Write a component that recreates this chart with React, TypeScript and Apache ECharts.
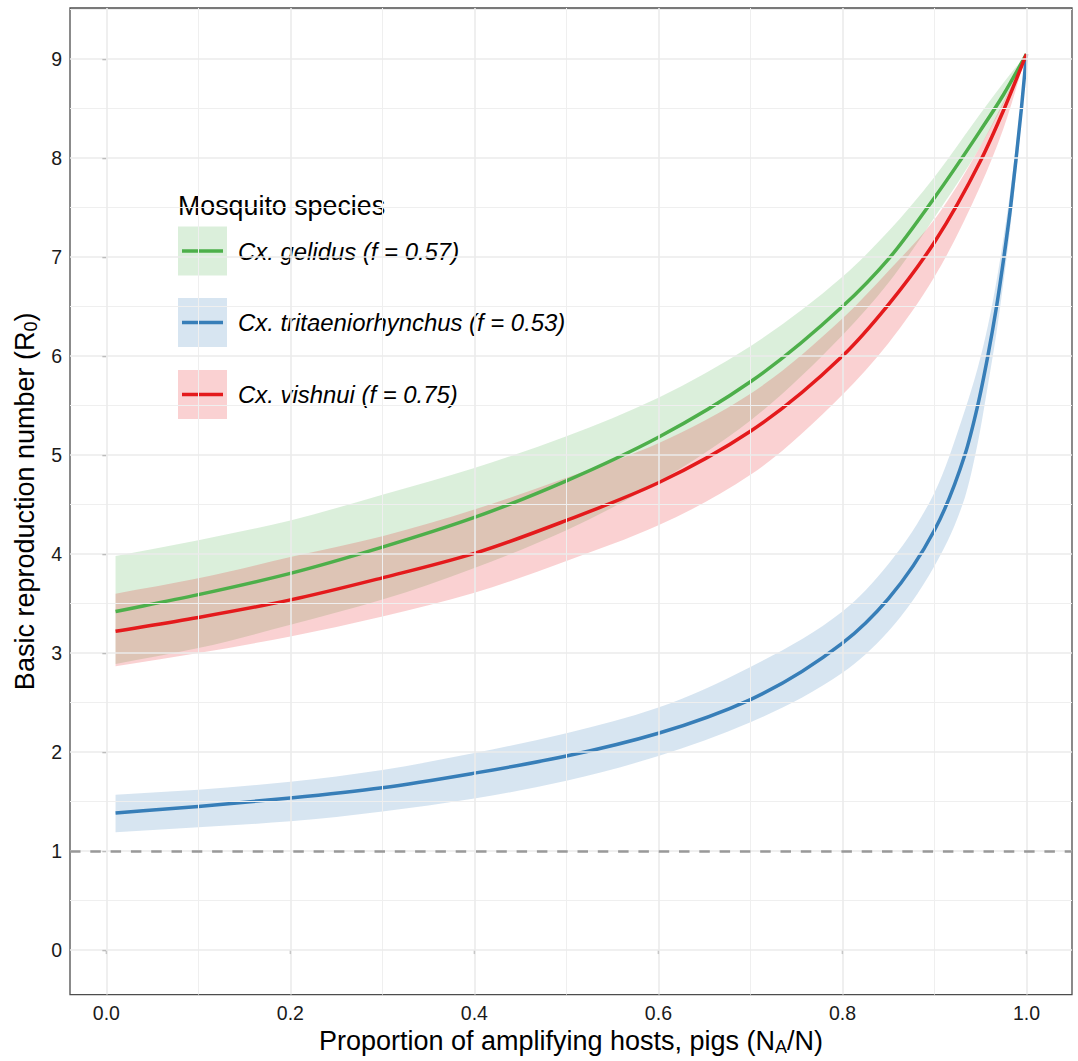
import React, { useEffect, useRef } from "react";
import * as echarts from "echarts";

// ---- data ----
const xGR = [0.01, 0.1, 0.2, 0.3, 0.4, 0.5, 0.6, 0.7, 0.8, 0.85, 0.9, 0.95, 0.975, 1.0];

const gelidusMid = [3.42, 3.59, 3.805, 4.07, 4.37, 4.74, 5.18, 5.74, 6.5, 6.98, 7.6, 8.28, 8.64, 9.05];
const gelidusHi = [3.98, 4.14, 4.34, 4.6, 4.87, 5.19, 5.58, 6.1, 6.8, 7.26, 7.81, 8.45, 8.76, 9.05];
const gelidusLo = [2.89, 3.05, 3.285, 3.54, 3.86, 4.24, 4.73, 5.35, 6.21, 6.74, 7.4, 8.12, 8.55, 9.05];

const vishnuiMid = [3.22, 3.36, 3.537, 3.76, 4.007, 4.34, 4.72, 5.24, 6.0, 6.52, 7.15, 7.97, 8.48, 9.05];
const vishnuiHi = [3.6, 3.755, 3.97, 4.18, 4.45, 4.77, 5.12, 5.62, 6.38, 6.86, 7.38, 8.12, 8.57, 9.05];
const vishnuiLo = [2.866, 3.0, 3.168, 3.37, 3.61, 3.93, 4.29, 4.8, 5.61, 6.13, 6.8, 7.72, 8.3, 9.05];

const xTri = [0.01, 0.1, 0.2, 0.3, 0.4, 0.5, 0.6, 0.7, 0.8, 0.85, 0.9, 0.933, 0.947, 0.958, 0.9675, 0.9755, 0.9827, 0.9888, 0.9945, 1.0];
const tritaeMid = [1.385, 1.45, 1.536, 1.64, 1.787, 1.96, 2.19, 2.53, 3.1, 3.55, 4.24, 5.0, 5.5, 6.0, 6.5, 7.0, 7.5, 8.0, 8.5, 9.05];
const tritaeHi = [1.57, 1.62, 1.7, 1.82, 1.99, 2.19, 2.45, 2.86, 3.42, 3.9, 4.62, 5.45, 5.88, 6.3, 6.76, 7.22, 7.68, 8.15, 8.6, 9.05];
const tritaeLo = [1.19, 1.24, 1.3, 1.4, 1.53, 1.71, 1.96, 2.3, 2.8, 3.22, 3.88, 4.57, 5.12, 5.7, 6.24, 6.78, 7.32, 7.85, 8.4, 9.05];

const xTicks = [0, 0.2, 0.4, 0.6, 0.8, 1.0];
const xMinor = [0.1, 0.3, 0.5, 0.7, 0.9];
const yTicks = [0, 1, 2, 3, 4, 5, 6, 7, 8, 9];
const yMinor = [0.5, 1.5, 2.5, 3.5, 4.5, 5.5, 6.5, 7.5, 8.5, 9.5];
const threshold = 1;

const legendTitle = "Mosquito species";
const speciesNames = ["Cx. gelidus (f = 0.57)", "Cx. tritaeniorhynchus (f = 0.53)", "Cx. vishnui (f = 0.75)"];
const speciesColors = ["#4DAF4A", "#377EB8", "#E41A1C"];

const FONT = '"Liberation Sans", Arial, Helvetica, sans-serif';

function hexA(hex: string, a: number) {
  const n = parseInt(hex.slice(1), 16);
  return `rgba(${(n >> 16) & 255},${(n >> 8) & 255},${n & 255},${a})`;
}

// monotone cubic (Fritsch-Carlson) tangents for pixel points with increasing x
function tangents(p: number[][]) {
  const n = p.length;
  const d: number[] = [];
  for (let i = 0; i < n - 1; i++) d.push((p[i + 1][1] - p[i][1]) / (p[i + 1][0] - p[i][0]));
  const m: number[] = new Array(n);
  m[0] = d[0];
  m[n - 1] = d[n - 2];
  for (let i = 1; i < n - 1; i++) {
    if (d[i - 1] * d[i] <= 0) m[i] = 0;
    else {
      const h0 = p[i][0] - p[i - 1][0];
      const h1 = p[i + 1][0] - p[i][0];
      const w1 = 2 * h1 + h0;
      const w2 = h1 + 2 * h0;
      m[i] = (w1 + w2) / (w1 / d[i - 1] + w2 / d[i]);
    }
  }
  return m;
}

function forwardPath(p: number[][], start: boolean) {
  const m = tangents(p);
  let s = start ? `M${p[0][0]},${p[0][1]}` : `L${p[0][0]},${p[0][1]}`;
  for (let i = 0; i < p.length - 1; i++) {
    const h = p[i + 1][0] - p[i][0];
    s += `C${p[i][0] + h / 3},${p[i][1] + (m[i] * h) / 3} ${p[i + 1][0] - h / 3},${p[i + 1][1] - (m[i + 1] * h) / 3} ${p[i + 1][0]},${p[i + 1][1]}`;
  }
  return s;
}

function backwardPath(p: number[][]) {
  const m = tangents(p);
  const n = p.length;
  let s = `L${p[n - 1][0]},${p[n - 1][1]}`;
  for (let i = n - 2; i >= 0; i--) {
    const h = p[i + 1][0] - p[i][0];
    s += `C${p[i + 1][0] - h / 3},${p[i + 1][1] - (m[i + 1] * h) / 3} ${p[i][0] + h / 3},${p[i][1] + (m[i] * h) / 3} ${p[i][0]},${p[i][1]}`;
  }
  return s;
}

export default function App() {
  const ref = useRef<HTMLDivElement>(null);
  useEffect(() => {
    if (!ref.current) return;
    const chart = echarts.init(ref.current, undefined, { renderer: "svg" });

    const groups = [
      { x: xGR, mid: gelidusMid, hi: gelidusHi, lo: gelidusLo },
      { x: xTri, mid: tritaeMid, hi: tritaeHi, lo: tritaeLo },
      { x: xGR, mid: vishnuiMid, hi: vishnuiHi, lo: vishnuiLo },
    ];

    const series: any[] = [];

    const gridLine = (w: number, c: string) => ({ color: c, width: w, type: "solid" });
    series.push({
      type: "line",
      data: [],
      silent: true,
      z: 0,
      markLine: {
        silent: true,
        symbol: ["none", "none"],
        label: { show: false },
        emphasis: { disabled: true },
        animation: false,
        data: [
          ...xMinor.map((v) => ({ xAxis: v, lineStyle: gridLine(1, "#EFEFEF") })),
          ...yMinor.map((v) => ({ yAxis: v, lineStyle: gridLine(1, "#EFEFEF") })),
          ...xTicks.map((v) => ({ xAxis: v, lineStyle: gridLine(1.6, "#EBEBEB") })),
          ...yTicks.map((v) => ({ yAxis: v, lineStyle: gridLine(1.6, "#EBEBEB") })),
        ],
      },
    });

    // ribbons
    groups.forEach((g, i) => {
      series.push({
        type: "custom",
        name: speciesNames[i] + " ribbon",
        silent: true,
        z: 1,
        clip: true,
        data: g.x.map((x, k) => [x, g.lo[k], g.hi[k]]),
        renderItem: (params: any, api: any) => {
          if (params.dataIndex !== 0) return null;
          const top = g.x.map((x, k) => api.coord([x, g.hi[k]]));
          const bot = g.x.map((x, k) => api.coord([x, g.lo[k]]));
          const d = forwardPath(top, true) + backwardPath(bot) + "Z";
          return {
            type: "path",
            shape: { pathData: d },
            style: { fill: hexA(speciesColors[i], 0.2), stroke: "none" },
          };
        },
      });
    });

    // threshold line
    series.push({
      type: "line",
      data: [],
      silent: true,
      z: 2,
      markLine: {
        silent: true,
        symbol: ["none", "none"],
        label: { show: false },
        emphasis: { disabled: true },
        animation: false,
        data: [{ yAxis: threshold, lineStyle: { color: "#999999", width: 2.6, type: [10.5, 9.8] } }],
      },
    });

    // central lines
    groups.forEach((g, i) => {
      series.push({
        type: "custom",
        name: speciesNames[i],
        silent: true,
        z: 3,
        clip: true,
        data: g.x.map((x, k) => [x, g.mid[k]]),
        renderItem: (params: any, api: any) => {
          if (params.dataIndex !== 0) return null;
          const pts = g.x.map((x, k) => api.coord([x, g.mid[k]]));
          return {
            type: "path",
            shape: { pathData: forwardPath(pts, true) },
            style: { fill: "none", stroke: speciesColors[i], lineWidth: 3.5, lineJoin: "round" },
          };
        },
      });
    });

    // legend as graphic
    const keyX = 178;
    const keyW = 49;
    const centers = [251, 322.5, 394.5];
    const legendEls: any[] = [
      {
        type: "text",
        x: keyX,
        y: 206,
        style: { text: legendTitle, fontSize: 26.8, fontFamily: FONT, fill: "#000", verticalAlign: "middle" },
      },
    ];
    centers.forEach((cy, i) => {
      legendEls.push({
        type: "rect",
        shape: { x: keyX, y: cy - keyW / 2, width: keyW, height: keyW },
        style: { fill: hexA(speciesColors[i], 0.2) },
      });
      legendEls.push({
        type: "line",
        shape: { x1: keyX + 4, y1: cy, x2: keyX + keyW - 4, y2: cy },
        style: { stroke: speciesColors[i], lineWidth: 3.5 },
      });
      legendEls.push({
        type: "text",
        x: 238,
        y: cy,
        style: {
          text: speciesNames[i],
          fontSize: 23.9,
          fontStyle: "italic",
          fontFamily: FONT,
          fill: "#000",
          verticalAlign: "middle",
          align: "left",
        },
      });
    });

    chart.setOption({
      animation: false,
      textStyle: { fontFamily: FONT },
      grid: {
        left: 70,
        right: 6,
        top: 8,
        bottom: 62,
        show: true,
        borderColor: "#4D4D4D",
        borderWidth: 1.3,
        backgroundColor: "#fff",
        containLabel: false,
      },
      xAxis: {
        type: "value",
        min: -0.0395,
        max: 1.0495,
        axisLine: { show: false },
        splitLine: { show: false },
        axisTick: { show: true, customValues: xTicks, length: 4, lineStyle: { color: "#333", width: 1.2 } },
        axisLabel: {
          customValues: xTicks,
          formatter: (v: number) => v.toFixed(1),
          fontSize: 19.5,
          color: "#1a1a1a",
          margin: 8,
          fontFamily: FONT,
        },
        name: "Proportion of amplifying hosts, pigs (N{sub|A}/N)",
        nameLocation: "middle",
        nameGap: 31,
        nameTextStyle: {
          fontSize: 27,
          color: "#000",
          fontFamily: FONT,
          rich: { sub: { fontSize: 18, verticalAlign: "bottom", padding: [12, 0, 0, 0], fontFamily: FONT } },
        },
      },
      yAxis: {
        type: "value",
        min: -0.45,
        max: 9.516,
        axisLine: { show: false },
        splitLine: { show: false },
        axisTick: { show: true, customValues: yTicks, length: 4, lineStyle: { color: "#333", width: 1.2 } },
        axisLabel: {
          customValues: yTicks,
          fontSize: 19.5,
          color: "#1a1a1a",
          margin: 8,
          fontFamily: FONT,
        },
        name: "Basic reproduction number (R{sub|0})",
        nameLocation: "middle",
        nameGap: 30,
        nameRotate: 90,
        nameTextStyle: {
          fontSize: 27,
          color: "#000",
          fontFamily: FONT,
          rich: { sub: { fontSize: 18, verticalAlign: "bottom", padding: [12, 0, 0, 0], fontFamily: FONT } },
        },
      },
      graphic: legendEls,
      series,
    });

    return () => chart.dispose();
  }, []);

  return (
    <div
      ref={ref}
      style={{ position: "fixed", left: 0, top: 0, width: 1078, height: 1061, background: "#fff" }}
    />
  );
}
